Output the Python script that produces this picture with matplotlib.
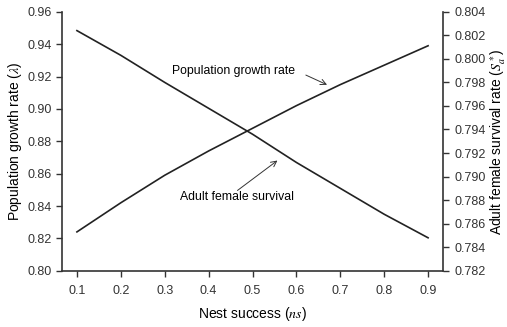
import numpy as np
import matplotlib
matplotlib.use("Agg")
import matplotlib.pyplot as plt

plt.rcParams['font.family'] = ['Liberation Sans', 'DejaVu Sans']
plt.rcParams['mathtext.fontset'] = 'stix'

nest_success = [0.1, 0.2, 0.3, 0.4, 0.5, 0.6, 0.7, 0.8, 0.9]
growth_rate = [0.824, 0.842, 0.859, 0.874, 0.888, 0.902, 0.915, 0.927, 0.939]
female_survival = [0.8024, 0.8003, 0.7980, 0.7958, 0.7936, 0.7912, 0.7890, 0.7868, 0.7848]

fig = plt.figure(figsize=(5.07, 3.27), dpi=100)
ax = fig.add_axes([0.1223, 0.172, 0.7515, 0.792])
ax2 = ax.twinx()

ax.plot(nest_success, growth_rate, color='#222222', lw=1.2)
ax2.plot(nest_success, female_survival, color='#222222', lw=1.2)

ax.set_xlim(0.066, 0.934)
ax.set_ylim(0.80, 0.96)
ax2.set_ylim(0.782, 0.804)

ax.set_xticks(nest_success)
ax.set_xticklabels(['%.1f' % v for v in nest_success])
ax.set_yticks(np.arange(0.80, 0.9601, 0.02))
ax.set_yticklabels(['%.2f' % v for v in np.arange(0.80, 0.9601, 0.02)])
ax2.set_yticks(np.arange(0.782, 0.80401, 0.002))
ax2.set_yticklabels(['%.3f' % v for v in np.arange(0.782, 0.80401, 0.002)])

for a in (ax, ax2):
    a.spines['top'].set_visible(False)
    a.tick_params(direction='out', length=4, width=1, labelsize=9, colors='#333333')
    for s in a.spines.values():
        s.set_linewidth(1.2)
        s.set_color('#333333')
ax.tick_params(axis='x', pad=6)
ax2.tick_params(axis='y', pad=4)
ax.spines['right'].set_visible(False)
ax2.spines['left'].set_visible(False)
ax2.spines['bottom'].set_visible(False)

ax.set_xlabel(r'Nest success ($ns$)', fontsize=10, labelpad=6)
ax.set_ylabel(r'Population growth rate ($\lambda$)', fontsize=10, labelpad=2)
ax2.set_ylabel(r'Adult female survival rate ($S_a^*$)', fontsize=10, labelpad=2)

ax.text(0.597, 0.9235, 'Population growth rate', fontsize=8.8, ha='right', va='center')
ax.annotate('', xy=(0.6698, 0.9149), xytext=(0.6215, 0.9209),
            arrowprops=dict(arrowstyle='->', color='#333333', lw=0.7,
                            shrinkA=0, shrinkB=0))
ax.text(0.4646, 0.8454, 'Adult female survival', fontsize=8.8, ha='center', va='center')
ax.annotate('', xy=(0.5568, 0.8681), xytext=(0.4657, 0.8496),
            arrowprops=dict(arrowstyle='->', color='#333333', lw=0.7,
                            shrinkA=0, shrinkB=0))

fig.savefig('out.png', dpi=100)
